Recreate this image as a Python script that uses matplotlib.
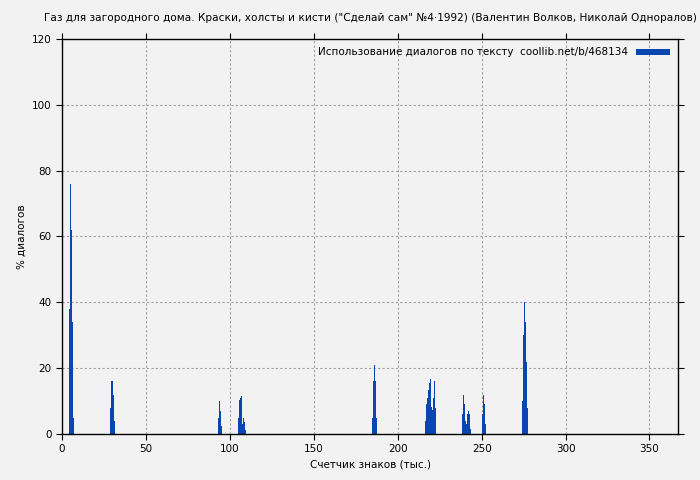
import matplotlib
matplotlib.use("Agg")
from matplotlib import pyplot as plt

# Данные: позиция в тексте (тыс. знаков) и доля диалогов (%)
pos_1 = [4.2, 4.8, 5.4, 6.0, 6.5, 7.1]
val_1 = [38, 76, 62, 34, 15, 5]
pos_2 = [29.2, 29.8, 30.4, 31.0]
val_2 = [8, 16, 12, 4]
pos_3 = [93.5, 94.0, 94.6, 95.2]
val_3 = [5, 10, 7, 2.5]
pos_4 = [105.4, 106.0, 106.5, 107.1, 107.7, 108.3, 108.9, 109.5]
val_4 = [5, 10.3, 11, 11.5, 3, 5, 3.6, 1.2]
pos_5 = [185.1, 185.7, 186.3, 186.9, 187.5]
val_5 = [5, 16, 21, 16, 5]
pos_6 = [216.7, 217.3, 217.9, 218.5, 219.1, 219.6, 220.2, 220.8, 221.4, 222.0, 222.6]
val_6 = [4, 9, 11, 13.4, 15.5, 16.7, 8.2, 7.3, 11, 16, 8]
pos_7 = [238.7, 239.3, 239.9, 240.5, 241.1, 241.7, 242.3, 242.9, 243.5]
val_7 = [6, 12, 9, 4, 3, 6, 7, 6, 1.5]
pos_8 = [250.6, 251.2, 251.8, 252.4]
val_8 = [6, 12, 9, 3]
pos_9 = [274.4, 275.0, 275.6, 276.2, 276.8, 277.4]
val_9 = [10, 30, 40, 34, 22, 8]

x = pos_1 + pos_2 + pos_3 + pos_4 + pos_5 + pos_6 + pos_7 + pos_8 + pos_9
y = val_1 + val_2 + val_3 + val_4 + val_5 + val_6 + val_7 + val_8 + val_9

bg = "#f2f2f2"
color = "#0a46b0"

fig = plt.figure(figsize=(7, 4.8), dpi=100, facecolor=bg)
ax = fig.add_axes([0.0886, 0.0958, 0.88, 0.823], facecolor=bg)

ax.bar(x, y, width=0.65, color=color, linewidth=0,
       label="Использование диалогов по тексту  coollib.net/b/468134")

ax.set_xlim(0, 367)
ax.set_ylim(0, 120)
ax.set_xticks(range(0, 351, 50))
ax.set_yticks(range(0, 121, 20))
ax.grid(True, color="#a0a0a0", linestyle=(0, (2, 2)), linewidth=0.8)
ax.set_axisbelow(True)
ax.tick_params(labelsize=7.5, direction="out", length=4, top=True, right=True,
               labeltop=False, labelright=False)
for s in ax.spines.values():
    s.set_color("black")
    s.set_linewidth(1)

ax.set_xlabel("Счетчик знаков (тыс.)", fontsize=7.5)
ax.set_ylabel("% диалогов", fontsize=7.5)
fig.text(0.529, 0.962, "Газ для загородного дома. Краски, холсты и кисти (\"Сделай сам\" №4·1992) (Валентин Волков, Николай Одноралов)",
         ha="center", va="center", fontsize=7.6)

ax.legend(loc="upper right", frameon=False, fontsize=7.5, markerfirst=False,
          handlelength=3.2, handleheight=0.5, borderaxespad=0.4)

fig.savefig("out.png", dpi=100, facecolor=bg)
